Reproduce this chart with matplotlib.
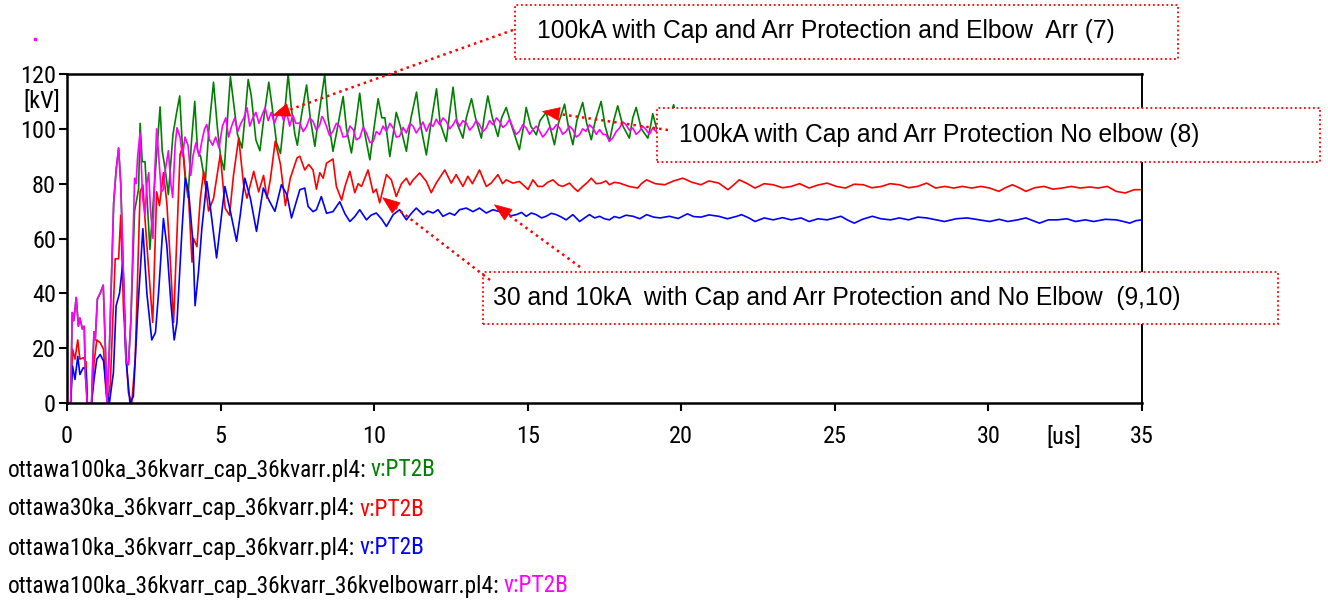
import matplotlib
matplotlib.use('Agg')
import matplotlib.pyplot as plt
import numpy as np
from matplotlib.patches import Rectangle, Polygon
from matplotlib.lines import Line2D

plt.rcParams['font.family'] = ['Roboto Condensed', 'Liberation Sans', 'DejaVu Sans']
NOTE_FONT = ['Liberation Sans', 'DejaVu Sans']

# ---------------- data (time in us, voltage in kV) ----------------
t_green = [0, 0.12, 0.17, 0.22, 0.3, 0.37, 0.42, 0.5, 0.56, 0.6, 0.66, 0.8, 0.84, 0.88, 0.92, 0.99, 1.08, 1.18,
           1.25, 1.3, 1.38, 1.52, 1.6, 1.68, 1.75, 1.84, 1.92, 2.0, 2.08, 2.2, 2.33, 2.38, 2.45, 2.54, 2.7, 2.85,
           3.03, 3.1, 3.2, 3.3, 3.45, 3.57, 3.67, 3.75, 3.85, 3.94, 4.05, 4.16, 4.25, 4.35, 4.5, 4.62, 4.77, 4.9,
           5.0, 5.12, 5.25, 5.32, 5.42, 5.55, 5.7, 5.8, 5.9, 6.0, 6.15, 6.28, 6.42, 6.57, 6.68, 6.82, 6.95, 7.08,
           7.2, 7.3, 7.42, 7.5, 7.62, 7.8, 7.92, 8.07, 8.2, 8.39, 8.5, 8.66, 8.8, 8.99, 9.1, 9.26, 9.4, 9.53, 9.65,
           9.86, 9.98, 10.13, 10.25, 10.35, 10.51, 10.62, 10.72, 10.85, 11.05, 11.2, 11.38, 11.5, 11.7, 11.85,
           12.03, 12.15, 12.35, 12.45, 12.57, 12.7, 12.89, 13.0, 13.17, 13.3, 13.49, 13.58, 13.7, 13.85, 14.03,
           14.15, 14.3, 14.45, 14.73, 14.85, 14.95, 15.1, 15.28, 15.4, 15.6, 15.72, 15.87, 16.0, 16.2, 16.32,
           16.47, 16.6, 16.79, 16.92, 17.07, 17.2, 17.39, 17.52, 17.66, 17.8, 17.93, 18.1, 18.31, 18.42, 18.53,
           18.7, 18.91, 19.0, 19.07, 19.2, 19.4, 19.6, 19.75, 19.9, 20.1, 20.3, 20.45, 20.7, 20.9, 21.1, 21.3, 21.6]
v_green = [0, 0, 33, 30, 38.5, 28, 31, 27, 28, 10, 0, 0, 15, 26, 23, 38, 40, 43,
           20, 0, 20, 73, 85, 93, 80, 45, 15, 14, 30, 70, 78, 102, 88, 88, 56, 80,
           108, 92, 85, 76, 98, 106, 112, 95, 82, 75, 95, 110, 92, 90, 80, 100, 117, 100,
           90, 85, 108, 119, 110, 98, 93, 105, 118, 112, 96, 92, 105, 117, 108, 95, 91, 105,
           120, 108, 98, 94, 104, 116, 104, 93.6, 105, 119.7, 104, 91.8, 100, 111.8, 100, 91.2, 102, 113, 101,
           88.7, 99, 111, 104, 104, 89.9, 98, 106, 101, 91.8, 104, 113.4, 102, 90.5, 102,
           114.6, 102, 95.4, 105, 115.2, 102, 96.6, 104, 111, 104, 96.6, 104, 112, 104, 97.2,
           104, 107.8, 102, 92.4, 100, 107.8, 101, 97.8, 103, 106, 101, 94.2, 102, 109, 101,
           94.2, 103, 109.6, 102, 96, 103, 110, 101, 95.4, 103, 108.4, 101, 96.6, 104, 107.8,
           100, 96.6, 101, 105.5, 100, 97, 103, 108.8, 101, 97, 106, 100, 97, 106, 100, 97, 106]

t_red = [0, 0.12, 0.18, 0.26, 0.35, 0.42, 0.53, 0.62, 0.66, 0.8, 0.88, 0.97, 1.08, 1.19, 1.27, 1.32, 1.41, 1.57,
         1.68, 1.75, 1.84, 2.0, 2.11, 2.22, 2.38, 2.47, 2.54, 2.65, 2.79, 2.92, 3.01, 3.14, 3.25, 3.36, 3.47,
         3.58, 3.68, 3.77, 3.85, 3.96, 4.07, 4.12, 4.23, 4.34, 4.45, 4.61, 4.77, 4.99, 5.15, 5.29, 5.42, 5.59,
         5.75, 5.86, 6.08, 6.24, 6.4, 6.51, 6.62, 6.78, 6.95, 7.11, 7.27, 7.49,
         7.58, 7.74, 7.87, 8.01, 8.12, 8.23, 8.34, 8.45, 8.66, 8.77, 8.94, 9.05, 9.21, 9.37, 9.48, 9.59, 9.8,
         9.97, 10.07, 10.18, 10.4, 10.56, 10.72, 10.89, 11.05, 11.16, 11.27, 11.48, 11.7, 11.86, 12.02, 12.3,
         12.51, 12.67, 12.89, 13.05, 13.2, 13.43, 13.65, 13.81, 14.03, 14.18, 14.3, 14.52, 14.73, 15.01, 15.17,
         15.33, 15.49, 15.65, 15.82, 16.0, 16.14, 16.36, 16.5, 16.63, 16.79, 16.95, 17.07, 17.23, 17.39, 17.55,
         17.66, 17.82, 17.99, 18.3, 18.58, 18.7, 18.87, 19.15, 19.46, 19.75, 20.05, 20.35, 20.64, 20.9, 21.22,
         21.52, 21.7, 21.89, 22.15, 22.4, 22.7, 22.99, 23.3, 23.58, 23.85, 24.16, 24.45, 24.75, 25.05, 25.34,
         25.63, 25.93, 26.2, 26.52, 26.8, 27.1, 27.4, 27.69, 27.99, 28.28, 28.58, 28.87, 29.15, 29.46, 29.75,
         30.04, 30.34, 30.55, 30.78, 31.0, 31.22, 31.5, 31.81, 32.1, 32.4, 32.7, 32.98, 33.3, 33.57, 33.87,
         34.16, 34.45, 34.75, 35.0]
v_red = [0, 0, 19.6, 16, 23, 16, 16.5, 15, 0, 0, 14.7, 23, 22, 19.6, 3.7, 0, 7, 52.6,
         52.6, 68.5, 34, 3.7, 0, 16, 77, 79.5, 67, 50, 29.4, 77, 72, 84, 73, 52.6, 29.4,
         62, 90.6, 93.6, 83, 74.6, 51.4, 60, 57, 74.6, 84.5, 70, 74.6, 90.6, 71, 68.5, 83, 96.7,
         79.6, 74.7, 84.5, 77, 83, 74.7, 81.5, 95.5, 87, 72, 82, 89.4,
         90, 85, 87, 85, 78, 84, 82, 87.5, 89, 79, 74, 79, 84.5, 76.7, 80, 79, 85,
         76.7, 78, 73, 83.3, 81.4, 75.3, 80, 82, 79.5, 81.4, 83.9, 80.8, 76.7, 80.2, 85,
         80.2, 83.3, 79, 82.7, 80, 85, 79, 80.2, 83.3, 80, 81.4, 80.2, 80.8, 77.9, 81.4,
         79, 79, 80.5, 81.4, 79.5, 79, 80.2, 78.5, 77.2, 79, 80.5, 82, 80, 80.2, 81,
         79.6, 80.5, 80.2, 79, 78.4, 80, 81.4, 80, 79.6, 81, 82, 80.5, 79.6, 81, 80.2,
         77.8, 79.5, 81.4, 80, 78.4, 80, 79.6, 78.5, 79, 80, 78.4, 79.5, 80.2, 79, 78.4,
         79.8, 79.6, 78.5, 79, 80, 79.6, 78.5, 79, 80.2, 78.4, 79, 78.4, 79, 78.4, 79,
         78.4, 77.2, 78.5, 79.6, 78.5, 77.2, 78.5, 79, 78, 78.4, 79, 78.4, 78.8, 78.4, 79,
         77.2, 76.6, 77.8, 77.8]

t_blue = [0, 0.12, 0.18, 0.26, 0.35, 0.42, 0.53, 0.62, 0.66, 0.8, 0.88, 0.97, 1.08, 1.19, 1.27, 1.38, 1.51, 1.6,
          1.71, 1.82, 1.92, 2.05, 2.16, 2.3, 2.47, 2.6, 2.76, 2.88, 2.98, 3.14, 3.25, 3.38, 3.49, 3.58, 3.74,
          3.85, 3.96, 4.1, 4.17, 4.28, 4.39, 4.55, 4.66, 4.87, 5.14, 5.32, 5.52, 5.64, 5.79, 5.97, 6.17, 6.39,
          6.6, 6.77, 6.98, 7.16, 7.31,
          7.58, 7.74, 7.85, 8.01, 8.12, 8.28, 8.45, 8.66, 8.88, 9.05, 9.21, 9.37, 9.53, 9.75, 9.9, 10.07, 10.25,
          10.4, 10.62, 10.83, 11.05, 11.2, 11.37, 11.59, 11.75, 11.92, 12.08, 12.24, 12.46, 12.62, 12.78, 13.0,
          13.22, 13.43, 13.65, 13.87, 14.08, 14.3, 14.46, 14.63, 14.8, 14.95, 15.12, 15.28, 15.45, 15.6, 15.77,
          15.93, 16.1, 16.25, 16.47, 16.69, 16.85, 17.01, 17.18, 17.34, 17.5, 17.66, 17.82, 17.99, 18.2, 18.43,
          18.65, 18.87, 19.1, 19.31, 19.61, 19.9, 20.2, 20.4, 20.64, 20.9, 21.22, 21.5, 21.81, 21.96, 22.2, 22.4,
          22.7, 22.99, 23.3, 23.58, 23.9, 24.16, 24.45, 24.75, 25.0, 25.2, 25.4, 25.63, 25.9, 26.22, 26.5, 26.81,
          27.1, 27.4, 27.7, 27.99, 28.3, 28.57, 28.95, 29.31, 29.7, 30.04, 30.35, 30.63, 30.95, 31.22, 31.45,
          31.66, 31.95, 32.25, 32.55, 32.84, 33.15, 33.43, 33.8, 34.16, 34.4, 34.6, 34.8, 35.0]
v_blue = [0, 0, 13.5, 8.6, 17, 10.4, 12.9, 12.2, 0, 0, 8.6, 16, 17.7, 15.3, 6, 0, 11, 35.5,
          40, 51.4, 16, 0, 2.4, 33, 63.6, 40, 23, 25.7, 40, 67.3, 57.5, 36.7, 23, 29.4, 62.4,
          82, 77, 58.8, 35.5, 47.7, 63.6, 80.8, 72, 52.9, 79, 69.8, 59, 68.5, 82, 74.7, 62.6, 78.4,
          73.4, 69.9, 79.6, 76, 67.5,
          77.8, 78.4, 71.7, 69.8, 70.5, 75.3, 69.2, 69.8, 73.4, 69, 66.2, 68, 70.5, 66.8, 68.5, 69.3, 67,
          64.4, 68.7, 70.5, 66.8, 69, 71.1, 68.7, 70, 69.3, 70.5, 68.1, 69.3, 68.5, 70.5, 71.1,
          69.8, 71.1, 69.3, 70.5, 69.8, 69.3, 68.3, 68.7, 69.5, 68.1, 69.3, 68.7, 67.5, 68.1, 69.2,
          68.7, 67.8, 66.8, 68.7, 66.2, 67.5, 68.7, 67.5, 68.1, 67.2, 66.8, 68, 67.5, 68.5, 68.1,
          67.2, 68.7, 67.8, 67.5, 68.1, 67.3, 69, 68, 67.8, 68.6, 68.1, 67.2, 68.1, 68.7, 67.5, 66.2,
          67.5, 66.8, 67.6, 66.8, 67.5, 66.2, 67.2, 66.8, 67.5, 68.1, 66.8, 65.6, 67, 68.1, 67.2, 66.8,
          67.5, 66.8, 67.8, 67.5, 66.8, 66.2, 67.2, 67.5, 66.8, 66.2, 67, 66.2, 66.8, 67.5, 66.5,
          65.6, 66.8, 66.8, 67.2, 66.2, 66.8, 66.2, 67, 66.8, 66.2, 65.6, 66.5, 66.8]

t_mag = [0, 0.12, 0.17, 0.22, 0.3, 0.37, 0.42, 0.5, 0.56, 0.6, 0.66, 0.8, 0.84, 0.88, 0.92, 0.99, 1.08, 1.18,
         1.25, 1.3, 1.38, 1.52, 1.6, 1.68, 1.75, 1.84, 1.92, 2.0, 2.08, 2.2, 2.25, 2.3, 2.38, 2.46, 2.54, 2.6,
         2.66, 2.72, 2.8, 2.86, 2.92, 3.0, 3.07, 3.14, 3.2, 3.3, 3.38, 3.44, 3.52, 3.58, 3.68, 3.76, 3.84, 3.94,
         4.03, 4.1, 4.2, 4.3, 4.4, 4.48, 4.55, 4.64, 4.74, 4.84, 4.95, 5.06, 5.17, 5.26, 5.36, 5.46, 5.56, 5.66,
         5.76, 5.86, 5.95, 6.05, 6.15, 6.25, 6.35, 6.45, 6.55, 6.65, 6.75, 6.85, 6.95, 7.05, 7.15, 7.25, 7.35,
         7.45, 7.58, 7.69, 7.8, 7.9, 8.01, 8.12, 8.23, 8.3, 8.34, 8.45, 8.55, 8.66, 8.77, 8.88, 8.99, 9.1, 9.21,
         9.32, 9.42, 9.53, 9.64, 9.75, 9.86, 9.97, 10.07, 10.18, 10.29, 10.4, 10.51, 10.62, 10.72, 10.83, 10.94,
         11.05, 11.16, 11.27, 11.37, 11.48, 11.59, 11.7, 11.81, 11.92, 12.02, 12.13, 12.24, 12.35, 12.46, 12.57,
         12.67, 12.78, 12.89, 13.0, 13.11, 13.22, 13.32, 13.43, 13.54, 13.65, 13.76, 13.87, 13.98, 14.08, 14.19,
         14.3, 14.41, 14.52, 14.62, 14.73, 14.84, 14.95, 15.06, 15.17, 15.28, 15.39, 15.49, 15.6, 15.71, 15.82,
         15.93, 16.04, 16.14, 16.25, 16.36, 16.47, 16.58, 16.69, 16.79, 16.9, 17.01, 17.12, 17.23, 17.34, 17.45,
         17.55, 17.66, 17.77, 17.88, 17.99, 18.1, 18.2, 18.31, 18.42, 18.53, 18.64, 18.74, 18.85, 18.96, 19.07,
         19.18, 19.3]
v_mag = [0, 0, 33, 30, 38.5, 28, 31, 27, 28, 10, 0, 0, 15, 26, 23, 38, 40, 43,
         20, 0, 20, 73, 85, 93, 80, 45, 15, 14, 30, 82, 80, 90, 98.5, 75, 68.5, 80,
         84, 70, 60, 85, 100, 88, 77, 78, 85, 92, 80, 75, 94, 100.4, 97, 90, 97, 94,
         83, 90, 95, 90, 96, 100, 101.6, 96, 94, 97, 93, 101, 104, 97, 101, 104, 99, 102,
         104, 107.7, 101, 104, 106, 102, 105, 107.7, 103, 106, 102, 105, 107, 103, 106, 101, 105,
         102, 102.1, 99.0, 100.9, 104.0, 102.7, 99.5, 101.5, 104.5, 103.9, 100.9, 97.5, 99.1, 102.0, 100.9, 97.0, 97.3, 101.0,
         99.7, 96.0, 96.7, 100.5, 98.5, 95.0, 95.4, 99.0, 97.9, 101.0, 99.1, 102.0, 100.3, 97.0, 97.3, 100.5,
         98.5, 102.0, 100.9, 98.5, 100.3, 102.5, 99.1, 102.0, 100.9, 103.5, 101.5, 104.0, 102.7, 100.0, 101.5,
         103.5, 100.9, 103.0, 102.1, 99.5, 100.9, 103.0, 101.5, 99.0, 100.3, 103.0, 101.5, 104.0, 102.7, 100.5,
         101.5, 103.5, 100.3, 98.0, 99.1, 101.5, 100.3, 98.0, 99.7, 101.0, 99.1, 97.0, 98.5, 100.5, 99.7,
         101.5, 100.3, 98.0, 99.1, 101.0, 99.7, 97.0, 97.9, 100.0, 99.1, 101.5, 100.3, 98.0, 99.7, 98.0,
         97.9, 95.5, 96.7, 99.0, 100.3, 102.5, 101.5, 99.5, 100.3, 98.0, 99.1, 101.0, 99.7, 98.0, 100.3,
         99.0, 100.5]

x_ticks = [0, 5, 10, 15, 20, 25, 30, 35]
y_ticks = [0, 20, 40, 60, 80, 100, 120]

legend_files = ['ottawa100ka_36kvarr_cap_36kvarr.pl4:',
                'ottawa30ka_36kvarr_cap_36kvarr.pl4:',
                'ottawa10ka_36kvarr_cap_36kvarr.pl4:',
                'ottawa100ka_36kvarr_cap_36kvarr_36kvelbowarr.pl4:']
legend_var = 'v:PT2B'

notes = ['100kA with Cap and Arr Protection and Elbow  Arr (7)',
         '100kA with Cap and Arr Protection No elbow (8)',
         '30 and 10kA  with Cap and Arr Protection and No Elbow  (9,10)']
# arrow targets (t, kV)
note_targets = [[(6.70, 104.8)], [(15.48, 106.3)], [(10.28, 74.9), (13.92, 72.3)]]

# ---------------- styling ----------------
C_GREEN, C_RED, C_BLUE, C_MAG = '#008000', '#ff0000', '#0000ff', '#ff00ff'
colors = [C_GREEN, C_RED, C_BLUE, C_MAG]
FS_TICK, FS_NOTE, FS_LEG = 17.5, 17.7, 16.8

W, H = 1328, 606
fig = plt.figure(figsize=(W / 100, H / 100), dpi=100)
L, R, T, B = 67, 1142, 74, 403
ax = fig.add_axes([L / W, 1 - B / H, (R - L) / W, (B - T) / H])


def fx(px):
    return px / W


def fy(py):
    return 1 - py / H


lw = 1.2
ax.plot(t_green, v_green, color=C_GREEN, lw=lw, zorder=2)
ax.plot(t_red, v_red, color=C_RED, lw=lw, zorder=2.1)
ax.plot(t_blue, v_blue, color=C_BLUE, lw=lw, zorder=2.2)
ax.plot(t_mag, v_mag, color=C_MAG, lw=lw, zorder=2.3)

ax.set_xlim(0, 35)
ax.set_ylim(0, 120)
ax.set_xticks(x_ticks)
ax.set_xticklabels([str(v) for v in x_ticks])
ax.set_yticks(y_ticks)
ax.set_yticklabels([str(v) for v in y_ticks])
ax.tick_params(axis='both', direction='out', length=6, width=1.5, labelsize=FS_TICK, colors='black')
ax.tick_params(axis='x', pad=10)
ax.tick_params(axis='y', pad=2)
for s in ['left', 'bottom', 'top']:
    ax.spines[s].set_linewidth(1.8)
ax.spines['right'].set_linewidth(1.4)

fig.text(fx(1064), fy(438), '[us]', ha='center', va='center', fontsize=FS_TICK)
fig.text(fx(42), fy(101), '[kV]', ha='center', va='center', fontsize=FS_TICK,
         bbox=dict(facecolor='white', edgecolor='none', pad=1))

# tiny magenta dot at top-left
fig.add_artist(Line2D([fx(34.5)], [fy(39)], marker='s', markersize=1.5, color=C_MAG, linestyle='none',
                      transform=fig.transFigure))

# annotation boxes (figure pixels: left, top, right, bottom)
boxes = [(515, 5, 1178, 59), (657, 108, 1320, 162), (483, 272, 1278, 324)]
text_pos = [(537, 31), (679, 135), (493, 298)]
tails = [[(513, 30)], [(668, 130)], [(490, 280), (580, 267)]]

for (bl, bt, br, bb), (tx, ty), note in zip(boxes, text_pos, notes):
    rect = Rectangle((fx(bl), fy(bb)), fx(br) - fx(bl), fy(bt) - fy(bb), transform=fig.transFigure,
                     facecolor='white', edgecolor=C_RED, linestyle=(0, (1, 1.5)), linewidth=1.3,
                     clip_on=False, zorder=5)
    ax.add_patch(rect)
    ax.text(fx(tx), fy(ty), note, transform=fig.transFigure, ha='left', va='center', fontsize=FS_NOTE,
            family=NOTE_FONT, zorder=7, clip_on=False)

# leader lines: dotted shaft + solid triangular head
HEAD_LEN, HEAD_HALF = 17.0, 6.5
for targets, tl in zip(note_targets, tails):
    for (tt, tv), (px, py) in zip(targets, tl):
        tip = ax.transData.transform((tt, tv))           # display pixels (origin bottom-left)
        tail = np.array([px, H - py], dtype=float)
        d = tail - tip
        u = d / np.hypot(*d)
        n = np.array([-u[1], u[0]])
        base = tip + u * HEAD_LEN
        inv = fig.transFigure.inverted()
        p_tail = inv.transform(tail)
        p_base = inv.transform(base)
        ax.add_line(Line2D([p_tail[0], p_base[0]], [p_tail[1], p_base[1]], transform=fig.transFigure,
                           color=C_RED, lw=1.8, linestyle=(0, (1, 1.6)), clip_on=False, zorder=6))
        tri = inv.transform(np.array([tip, base + n * HEAD_HALF, base - n * HEAD_HALF]))
        ax.add_patch(Polygon(tri, closed=True, transform=fig.transFigure, facecolor=C_RED,
                             edgecolor=C_RED, lw=0.5, clip_on=False, zorder=6))

# legend lines below the axes
legend_y = [470, 509, 548, 586]
for name, col, ly in zip(legend_files, colors, legend_y):
    t1 = fig.text(fx(8), fy(ly), name, ha='left', va='center', fontsize=FS_LEG)
    ax.annotate(legend_var, xy=(1, 0.5), xycoords=t1, xytext=(3, 0), textcoords='offset points',
                ha='left', va='center', fontsize=FS_LEG, color=col, annotation_clip=False)

fig.savefig('out.png', dpi=100)
